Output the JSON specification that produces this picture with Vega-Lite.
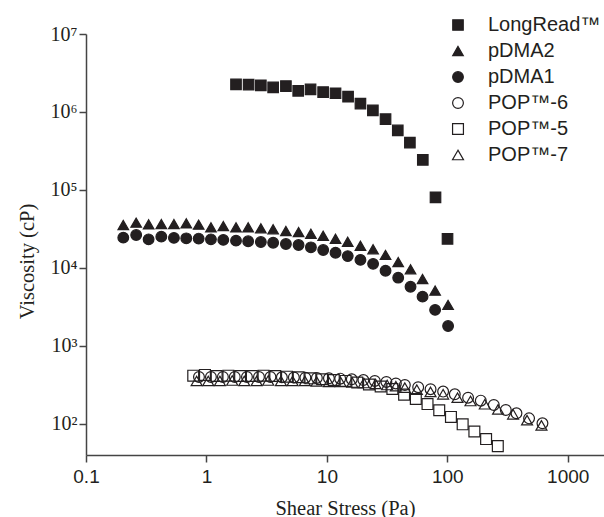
{
  "$schema": "https://vega.github.io/schema/vega-lite/v6.json",
  "width": 518,
  "height": 421,
  "autosize": {"type": "none"},
  "padding": {"left": 86, "top": 34, "right": 0, "bottom": 62},
  "background": "white",
  "config": {
    "view": {"stroke": null},
    "axis": {
      "grid": false,
      "domainColor": "#444444",
      "domainWidth": 1.5,
      "tickColor": "#444444",
      "tickWidth": 1.5,
      "tickSize": 7,
      "labelColor": "#231f20",
      "titleColor": "#231f20",
      "titleFont": "Liberation Serif",
      "titleFontSize": 20.5,
      "titleFontWeight": "normal"
    }
  },
  "data": {
    "values": [
      {"s": "LongRead™", "x": 1.76, "y": 2260000},
      {"s": "LongRead™", "x": 2.24, "y": 2240000},
      {"s": "LongRead™", "x": 2.83, "y": 2200000},
      {"s": "LongRead™", "x": 3.58, "y": 2070000},
      {"s": "LongRead™", "x": 4.57, "y": 2150000},
      {"s": "LongRead™", "x": 5.78, "y": 1870000},
      {"s": "LongRead™", "x": 7.32, "y": 1950000},
      {"s": "LongRead™", "x": 9.31, "y": 1800000},
      {"s": "LongRead™", "x": 11.8, "y": 1740000},
      {"s": "LongRead™", "x": 15.0, "y": 1570000},
      {"s": "LongRead™", "x": 19.0, "y": 1280000},
      {"s": "LongRead™", "x": 24.1, "y": 1050000},
      {"s": "LongRead™", "x": 30.7, "y": 810000},
      {"s": "LongRead™", "x": 38.8, "y": 580000},
      {"s": "LongRead™", "x": 48.9, "y": 404000},
      {"s": "LongRead™", "x": 62.6, "y": 243000},
      {"s": "LongRead™", "x": 79.8, "y": 80600},
      {"s": "LongRead™", "x": 100.4, "y": 23600},

      {"s": "pDMA2", "x": 0.204, "y": 35600},
      {"s": "pDMA2", "x": 0.261, "y": 38100},
      {"s": "pDMA2", "x": 0.331, "y": 36300},
      {"s": "pDMA2", "x": 0.422, "y": 36600},
      {"s": "pDMA2", "x": 0.537, "y": 36600},
      {"s": "pDMA2", "x": 0.68, "y": 37400},
      {"s": "pDMA2", "x": 0.862, "y": 35900},
      {"s": "pDMA2", "x": 1.09, "y": 33200},
      {"s": "pDMA2", "x": 1.38, "y": 34500},
      {"s": "pDMA2", "x": 1.76, "y": 33200},
      {"s": "pDMA2", "x": 2.22, "y": 33200},
      {"s": "pDMA2", "x": 2.83, "y": 32300},
      {"s": "pDMA2", "x": 3.58, "y": 31400},
      {"s": "pDMA2", "x": 4.57, "y": 29800},
      {"s": "pDMA2", "x": 5.82, "y": 28900},
      {"s": "pDMA2", "x": 7.37, "y": 27500},
      {"s": "pDMA2", "x": 9.32, "y": 25900},
      {"s": "pDMA2", "x": 11.8, "y": 23700},
      {"s": "pDMA2", "x": 14.9, "y": 21700},
      {"s": "pDMA2", "x": 19.0, "y": 19300},
      {"s": "pDMA2", "x": 24.2, "y": 17400},
      {"s": "pDMA2", "x": 30.7, "y": 14700},
      {"s": "pDMA2", "x": 39.1, "y": 11900},
      {"s": "pDMA2", "x": 49.5, "y": 9620},
      {"s": "pDMA2", "x": 62.3, "y": 7230},
      {"s": "pDMA2", "x": 79.2, "y": 5120},
      {"s": "pDMA2", "x": 101.5, "y": 3360},

      {"s": "pDMA1", "x": 0.204, "y": 24500},
      {"s": "pDMA1", "x": 0.261, "y": 26500},
      {"s": "pDMA1", "x": 0.331, "y": 23300},
      {"s": "pDMA1", "x": 0.422, "y": 25200},
      {"s": "pDMA1", "x": 0.537, "y": 24300},
      {"s": "pDMA1", "x": 0.68, "y": 24000},
      {"s": "pDMA1", "x": 0.862, "y": 23800},
      {"s": "pDMA1", "x": 1.09, "y": 23300},
      {"s": "pDMA1", "x": 1.38, "y": 22900},
      {"s": "pDMA1", "x": 1.76, "y": 22400},
      {"s": "pDMA1", "x": 2.22, "y": 22000},
      {"s": "pDMA1", "x": 2.83, "y": 21500},
      {"s": "pDMA1", "x": 3.58, "y": 21100},
      {"s": "pDMA1", "x": 4.57, "y": 20300},
      {"s": "pDMA1", "x": 5.82, "y": 19700},
      {"s": "pDMA1", "x": 7.37, "y": 18400},
      {"s": "pDMA1", "x": 9.32, "y": 17000},
      {"s": "pDMA1", "x": 11.8, "y": 15700},
      {"s": "pDMA1", "x": 14.9, "y": 14200},
      {"s": "pDMA1", "x": 19.0, "y": 12700},
      {"s": "pDMA1", "x": 24.2, "y": 11300},
      {"s": "pDMA1", "x": 30.7, "y": 9230},
      {"s": "pDMA1", "x": 39.1, "y": 7510},
      {"s": "pDMA1", "x": 49.5, "y": 5750},
      {"s": "pDMA1", "x": 62.3, "y": 4290},
      {"s": "pDMA1", "x": 79.2, "y": 2900},
      {"s": "pDMA1", "x": 101.5, "y": 1800},

      {"s": "POP™-6", "x": 0.867, "y": 401},
      {"s": "POP™-6", "x": 1.09, "y": 401},
      {"s": "POP™-6", "x": 1.37, "y": 401},
      {"s": "POP™-6", "x": 1.72, "y": 401},
      {"s": "POP™-6", "x": 2.17, "y": 401},
      {"s": "POP™-6", "x": 2.73, "y": 401},
      {"s": "POP™-6", "x": 3.4, "y": 401},
      {"s": "POP™-6", "x": 4.23, "y": 397},
      {"s": "POP™-6", "x": 5.32, "y": 395},
      {"s": "POP™-6", "x": 6.63, "y": 392},
      {"s": "POP™-6", "x": 8.26, "y": 389},
      {"s": "POP™-6", "x": 10.4, "y": 385},
      {"s": "POP™-6", "x": 12.9, "y": 381},
      {"s": "POP™-6", "x": 16.1, "y": 374},
      {"s": "POP™-6", "x": 20.1, "y": 366},
      {"s": "POP™-6", "x": 25.0, "y": 356},
      {"s": "POP™-6", "x": 31.2, "y": 346},
      {"s": "POP™-6", "x": 37.4, "y": 331},
      {"s": "POP™-6", "x": 44.4, "y": 316},
      {"s": "POP™-6", "x": 57.3, "y": 296},
      {"s": "POP™-6", "x": 72.6, "y": 279},
      {"s": "POP™-6", "x": 92.3, "y": 260},
      {"s": "POP™-6", "x": 115.4, "y": 240},
      {"s": "POP™-6", "x": 148.8, "y": 217},
      {"s": "POP™-6", "x": 189.7, "y": 199},
      {"s": "POP™-6", "x": 243.2, "y": 175},
      {"s": "POP™-6", "x": 305.9, "y": 151},
      {"s": "POP™-6", "x": 375.2, "y": 137},
      {"s": "POP™-6", "x": 477.4, "y": 118},
      {"s": "POP™-6", "x": 616.6, "y": 102},

      {"s": "POP™-5", "x": 0.777, "y": 416},
      {"s": "POP™-5", "x": 0.972, "y": 425},
      {"s": "POP™-5", "x": 1.216, "y": 412},
      {"s": "POP™-5", "x": 1.521, "y": 416},
      {"s": "POP™-5", "x": 1.904, "y": 412},
      {"s": "POP™-5", "x": 2.381, "y": 412},
      {"s": "POP™-5", "x": 2.98, "y": 416},
      {"s": "POP™-5", "x": 3.727, "y": 412},
      {"s": "POP™-5", "x": 4.663, "y": 404},
      {"s": "POP™-5", "x": 5.834, "y": 397},
      {"s": "POP™-5", "x": 7.298, "y": 385},
      {"s": "POP™-5", "x": 9.13, "y": 374},
      {"s": "POP™-5", "x": 11.42, "y": 366},
      {"s": "POP™-5", "x": 14.29, "y": 356},
      {"s": "POP™-5", "x": 17.87, "y": 340},
      {"s": "POP™-5", "x": 22.36, "y": 321},
      {"s": "POP™-5", "x": 27.97, "y": 302},
      {"s": "POP™-5", "x": 34.99, "y": 281},
      {"s": "POP™-5", "x": 43.78, "y": 238},
      {"s": "POP™-5", "x": 54.77, "y": 209},
      {"s": "POP™-5", "x": 68.5, "y": 180},
      {"s": "POP™-5", "x": 85.7, "y": 150},
      {"s": "POP™-5", "x": 107.2, "y": 123},
      {"s": "POP™-5", "x": 134.1, "y": 99},
      {"s": "POP™-5", "x": 167.8, "y": 80},
      {"s": "POP™-5", "x": 209.9, "y": 64},
      {"s": "POP™-5", "x": 262.6, "y": 52},

      {"s": "POP™-7", "x": 0.829, "y": 356},
      {"s": "POP™-7", "x": 1.035, "y": 356},
      {"s": "POP™-7", "x": 1.294, "y": 356},
      {"s": "POP™-7", "x": 1.637, "y": 361},
      {"s": "POP™-7", "x": 2.06, "y": 356},
      {"s": "POP™-7", "x": 2.61, "y": 356},
      {"s": "POP™-7", "x": 3.258, "y": 361},
      {"s": "POP™-7", "x": 4.153, "y": 356},
      {"s": "POP™-7", "x": 5.193, "y": 356},
      {"s": "POP™-7", "x": 6.567, "y": 356},
      {"s": "POP™-7", "x": 8.214, "y": 351},
      {"s": "POP™-7", "x": 10.39, "y": 346},
      {"s": "POP™-7", "x": 12.99, "y": 346},
      {"s": "POP™-7", "x": 16.22, "y": 340},
      {"s": "POP™-7", "x": 20.28, "y": 335},
      {"s": "POP™-7", "x": 25.36, "y": 326},
      {"s": "POP™-7", "x": 31.65, "y": 316},
      {"s": "POP™-7", "x": 37.38, "y": 305},
      {"s": "POP™-7", "x": 44.4, "y": 292},
      {"s": "POP™-7", "x": 55.84, "y": 276},
      {"s": "POP™-7", "x": 72.55, "y": 258},
      {"s": "POP™-7", "x": 92.3, "y": 240},
      {"s": "POP™-7", "x": 121.5, "y": 217},
      {"s": "POP™-7", "x": 155.8, "y": 197},
      {"s": "POP™-7", "x": 204.8, "y": 179},
      {"s": "POP™-7", "x": 264.0, "y": 154},
      {"s": "POP™-7", "x": 351.6, "y": 133},
      {"s": "POP™-7", "x": 459.4, "y": 112},
      {"s": "POP™-7", "x": 605, "y": 96}
    ]
  },
  "mark": {
    "type": "point",
    "filled": true,
    "stroke": "#231f20",
    "strokeWidth": 1.2,
    "opacity": 1
  },
  "encoding": {
    "x": {
      "field": "x",
      "type": "quantitative",
      "scale": {"type": "log", "domain": [0.1, 2000], "nice": false},
      "axis": {
        "title": "Shear Stress (Pa)",
        "values": [0.1, 1, 10, 100, 1000],
        "labelExpr": "datum.value < 1 ? '0.1' : format(datum.value, 'd')",
        "labelFont": "Liberation Sans",
        "labelFontSize": 19,
        "labelPadding": 5,
        "labelFlush": false,
        "labelOverlap": false,
        "titleY": 53,
        "titleBaseline": "middle"
      }
    },
    "y": {
      "field": "y",
      "type": "quantitative",
      "scale": {"type": "log", "domain": [40, 10000000], "nice": false},
      "axis": {
        "title": "Viscosity (cP)",
        "values": [100, 1000, 10000, 100000, 1000000, 10000000],
        "labelExpr": "datum.value == 100 ? '10²' : datum.value == 1000 ? '10³' : datum.value == 10000 ? '10⁴' : datum.value == 100000 ? '10⁵' : datum.value == 1000000 ? '10⁶' : '10⁷'",
        "labelFont": "Liberation Serif",
        "labelFontSize": 20,
        "labelPadding": 2,
        "labelFlush": false,
        "labelOverlap": false,
        "titleX": -59,
        "titleY": 227,
        "titleAngle": -90,
        "titleAlign": "center",
        "titleBaseline": "middle"
      }
    },
    "shape": {
      "field": "s",
      "type": "nominal",
      "scale": {
        "domain": ["LongRead™", "pDMA2", "pDMA1", "POP™-6", "POP™-5", "POP™-7"],
        "range": ["square", "triangle-up", "circle", "circle", "square", "triangle-up"]
      },
      "legend": {
        "title": null,
        "orient": "none",
        "legendX": 362,
        "legendY": -19,
        "padding": 0,
        "labelFont": "Liberation Sans",
        "labelFontSize": 20,
        "labelColor": "#231f20",
        "labelOffset": 20,
        "rowPadding": 6,
        "symbolStrokeColor": "#231f20",
        "symbolStrokeWidth": 1.2
      }
    },
    "fill": {
      "field": "s",
      "type": "nominal",
      "scale": {
        "domain": ["LongRead™", "pDMA2", "pDMA1", "POP™-6", "POP™-5", "POP™-7"],
        "range": ["#231f20", "#231f20", "#231f20", "transparent", "transparent", "transparent"]
      }
    },
    "size": {
      "field": "s",
      "type": "nominal",
      "scale": {
        "domain": ["LongRead™", "pDMA2", "pDMA1", "POP™-6", "POP™-5", "POP™-7"],
        "range": [110, 120, 105, 95, 75, 100]
      }
    }
  }
}
